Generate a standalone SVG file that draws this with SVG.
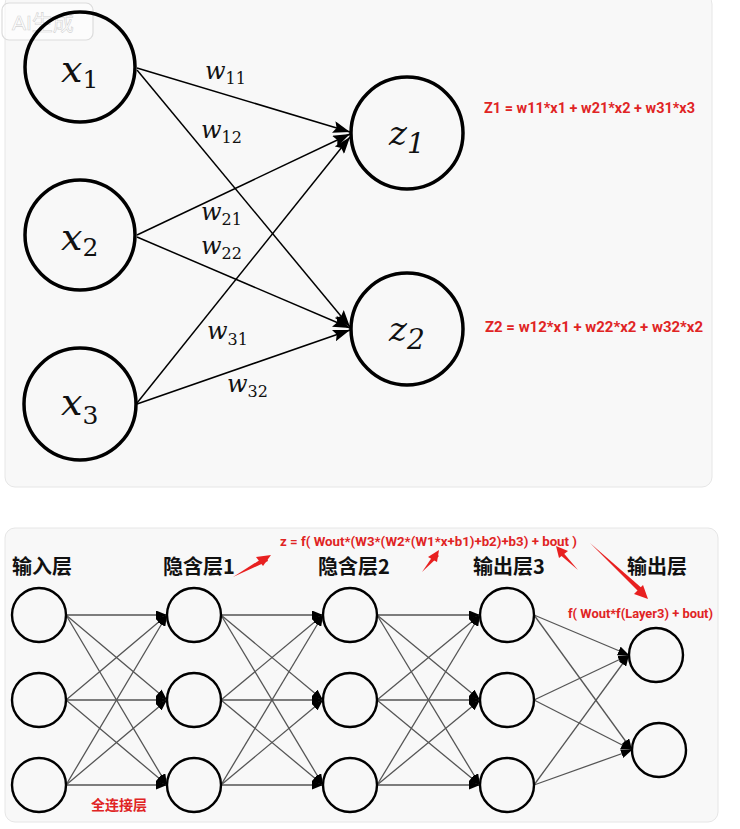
<svg xmlns="http://www.w3.org/2000/svg" width="740" height="829" viewBox="0 0 740 829">
<style>
.panel{fill:#f8f8f8;stroke:#e6e6e6;stroke-width:1}
.big{fill:none;stroke:#000;stroke-width:3.5}
.small{fill:none;stroke:#000;stroke-width:2.4}
.var{font-family:"DejaVu Serif","Liberation Serif",serif;font-style:italic;fill:#111}
.sub{font-style:normal}
.w{font-family:"DejaVu Serif","Liberation Serif",serif;font-style:italic;font-size:24px;fill:#111}
.ws{font-style:normal;font-size:16px}
.red{font-family:"Roboto","Liberation Sans",sans-serif;font-weight:700;fill:#e02424}
.redcn{font-family:"Noto Sans CJK SC","Noto Sans",sans-serif;font-weight:700;font-size:14px;fill:#e02424}
.cn{font-family:"Noto Sans CJK SC","Noto Sans",sans-serif;font-weight:700;font-size:20px;fill:#111}
.ct{stroke:#000;stroke-width:1.5;fill:none}
.cb{stroke:#555;stroke-width:1.3;fill:none}
.ra{fill:#e82020;stroke:none}
</style>
<defs>
<marker id="ah" markerUnits="userSpaceOnUse" markerWidth="18" markerHeight="12" refX="17" refY="6" orient="auto">
<path d="M0,0 L17,6 L0,12 L3,6 z" fill="#000"/>
</marker>
<marker id="as" markerUnits="userSpaceOnUse" markerWidth="12" markerHeight="9" refX="11" refY="4.5" orient="auto">
<path d="M0,0 L11,4.5 L0,9 z" fill="#000"/>
</marker>
<path id="redarrow" d="M0,-1 L-24,-1.8 L-24,-6 L0,0 L-24,6 L-24,1.8 Z"/>
</defs>
<rect width="740" height="829" fill="#ffffff"/>
<rect class="panel" x="5" y="-6" width="707" height="493" rx="10"/>
<rect class="panel" x="5" y="528" width="713" height="294" rx="10"/>

<g id="watermark">
<rect x="2" y="3" width="91" height="37" rx="7" fill="#ffffff" fill-opacity="0.5" stroke="#dcdcdc" stroke-width="1.2"/>
<text x="12" y="30" font-family="Liberation Sans,Noto Sans CJK SC,sans-serif" font-size="21" fill="#ffffff" stroke="#d2d2d2" stroke-width="0.6">AI生成</text>
</g>

<g id="connectors-top">
<line class="ct" x1="137" y1="68" x2="350" y2="132" marker-end="url(#ah)"/>
<line class="ct" x1="137" y1="70" x2="350" y2="327" marker-end="url(#ah)"/>
<line class="ct" x1="137" y1="235" x2="350" y2="134" marker-end="url(#ah)"/>
<line class="ct" x1="137" y1="237" x2="350" y2="328" marker-end="url(#ah)"/>
<line class="ct" x1="137" y1="403" x2="350" y2="137" marker-end="url(#ah)"/>
<line class="ct" x1="137" y1="404" x2="350" y2="330" marker-end="url(#ah)"/>
</g>

<g id="weights">
<text class="w" x="205" y="79">w<tspan class="ws" dy="5">11</tspan></text>
<text class="w" x="201" y="138">w<tspan class="ws" dy="5">12</tspan></text>
<text class="w" x="201" y="220">w<tspan class="ws" dy="5">21</tspan></text>
<text class="w" x="201" y="254">w<tspan class="ws" dy="5">22</tspan></text>
<text class="w" x="207" y="339">w<tspan class="ws" dy="6">31</tspan></text>
<text class="w" x="227" y="392">w<tspan class="ws" dy="5">32</tspan></text>
</g>

<g id="x1"><circle class="big" cx="80" cy="67" r="55"/><text class="var" x="61" y="82" font-size="38">x<tspan class="sub" font-size="25" dy="6">1</tspan></text></g>
<g id="x2"><circle class="big" cx="80" cy="235" r="55"/><text class="var" x="61" y="250" font-size="38">x<tspan class="sub" font-size="25" dy="6">2</tspan></text></g>
<g id="x3"><circle class="big" cx="80" cy="404" r="56"/><text class="var" x="61" y="415" font-size="38">x<tspan class="sub" font-size="25" dy="9">3</tspan></text></g>
<g id="z1"><circle class="big" cx="407" cy="133" r="56"/><text class="var" x="389" y="145" font-size="34">z<tspan font-size="28" dy="8">1</tspan></text></g>
<g id="z2"><circle class="big" cx="407" cy="329" r="56"/><text class="var" x="389" y="341" font-size="34">z<tspan font-size="28" dy="8">2</tspan></text></g>

<g id="formulas-top">
<text class="red" x="484" y="113" font-size="15" textLength="211" lengthAdjust="spacingAndGlyphs">Z1 = w11*x1 + w21*x2 + w31*x3</text>
<text class="red" x="485" y="332" font-size="15" textLength="218" lengthAdjust="spacingAndGlyphs">Z2 = w12*x1 + w22*x2 + w32*x2</text>
</g>

<g id="layer-labels">
<text class="cn" x="12" y="574">输入层</text>
<text class="cn" x="163" y="574">隐含层1</text>
<text class="cn" x="318" y="574">隐含层2</text>
<text class="cn" x="473" y="574">输出层3</text>
<text class="cn" x="627" y="574">输出层</text>
</g>

<g id="connectors-bottom">
<line class="cb" x1="66" y1="615" x2="167" y2="615" marker-end="url(#as)"/>
<line class="cb" x1="66" y1="615" x2="167" y2="700" marker-end="url(#as)"/>
<line class="cb" x1="66" y1="615" x2="167" y2="785" marker-end="url(#as)"/>
<line class="cb" x1="66" y1="700" x2="167" y2="615" marker-end="url(#as)"/>
<line class="cb" x1="66" y1="700" x2="167" y2="700" marker-end="url(#as)"/>
<line class="cb" x1="66" y1="700" x2="167" y2="785" marker-end="url(#as)"/>
<line class="cb" x1="66" y1="785" x2="167" y2="615" marker-end="url(#as)"/>
<line class="cb" x1="66" y1="785" x2="167" y2="700" marker-end="url(#as)"/>
<line class="cb" x1="66" y1="785" x2="167" y2="785" marker-end="url(#as)"/>

<line class="cb" x1="221" y1="615" x2="323" y2="615" marker-end="url(#as)"/>
<line class="cb" x1="221" y1="615" x2="323" y2="700" marker-end="url(#as)"/>
<line class="cb" x1="221" y1="615" x2="323" y2="785" marker-end="url(#as)"/>
<line class="cb" x1="221" y1="700" x2="323" y2="615" marker-end="url(#as)"/>
<line class="cb" x1="221" y1="700" x2="323" y2="700" marker-end="url(#as)"/>
<line class="cb" x1="221" y1="700" x2="323" y2="785" marker-end="url(#as)"/>
<line class="cb" x1="221" y1="785" x2="323" y2="615" marker-end="url(#as)"/>
<line class="cb" x1="221" y1="785" x2="323" y2="700" marker-end="url(#as)"/>
<line class="cb" x1="221" y1="785" x2="323" y2="785" marker-end="url(#as)"/>

<line class="cb" x1="377" y1="615" x2="480" y2="615" marker-end="url(#as)"/>
<line class="cb" x1="377" y1="615" x2="480" y2="700" marker-end="url(#as)"/>
<line class="cb" x1="377" y1="615" x2="480" y2="785" marker-end="url(#as)"/>
<line class="cb" x1="377" y1="700" x2="480" y2="615" marker-end="url(#as)"/>
<line class="cb" x1="377" y1="700" x2="480" y2="700" marker-end="url(#as)"/>
<line class="cb" x1="377" y1="700" x2="480" y2="785" marker-end="url(#as)"/>
<line class="cb" x1="377" y1="785" x2="480" y2="615" marker-end="url(#as)"/>
<line class="cb" x1="377" y1="785" x2="480" y2="700" marker-end="url(#as)"/>
<line class="cb" x1="377" y1="785" x2="480" y2="785" marker-end="url(#as)"/>

<line class="cb" x1="534" y1="615" x2="629" y2="655" marker-end="url(#as)"/>
<line class="cb" x1="534" y1="615" x2="632" y2="750" marker-end="url(#as)"/>
<line class="cb" x1="534" y1="700" x2="629" y2="655" marker-end="url(#as)"/>
<line class="cb" x1="534" y1="700" x2="632" y2="750" marker-end="url(#as)"/>
<line class="cb" x1="534" y1="785" x2="629" y2="655" marker-end="url(#as)"/>
<line class="cb" x1="534" y1="785" x2="632" y2="750" marker-end="url(#as)"/>
</g>

<g id="n1-1"><circle class="small" cx="39" cy="615" r="27"/></g>
<g id="n1-2"><circle class="small" cx="39" cy="700" r="27"/></g>
<g id="n1-3"><circle class="small" cx="39" cy="785" r="27"/></g>
<g id="n2-1"><circle class="small" cx="194" cy="615" r="27"/></g>
<g id="n2-2"><circle class="small" cx="194" cy="700" r="27"/></g>
<g id="n2-3"><circle class="small" cx="194" cy="785" r="27"/></g>
<g id="n3-1"><circle class="small" cx="350" cy="615" r="27"/></g>
<g id="n3-2"><circle class="small" cx="350" cy="700" r="27"/></g>
<g id="n3-3"><circle class="small" cx="350" cy="785" r="27"/></g>
<g id="n4-1"><circle class="small" cx="507" cy="615" r="27"/></g>
<g id="n4-2"><circle class="small" cx="507" cy="700" r="27"/></g>
<g id="n4-3"><circle class="small" cx="507" cy="785" r="27"/></g>
<g id="n5-1"><circle class="small" cx="656" cy="655" r="27"/></g>
<g id="n5-2"><circle class="small" cx="659" cy="750" r="27"/></g>

<g id="annotations">
<text class="red" x="280" y="546" font-size="12" textLength="297" lengthAdjust="spacingAndGlyphs">z = f( Wout*(W3*(W2*(W1*x+b1)+b2)+b3) + bout )</text>
<text class="red" x="568" y="618" font-size="13" textLength="145" lengthAdjust="spacingAndGlyphs">f( Wout*f(Layer3) + bout)</text>
<text class="redcn" x="91" y="810">全连接层</text>
<g class="ra">
<polygon points="233,577 266,556 268,561"/><polygon points="271,555 256,557 263,566"/>
</g>
<g class="ra">
<polygon points="422,572 435,553 439,556"/><polygon points="439,550 428,557 437,562"/>
</g>
<g class="ra">
<polygon points="578,570 561,550 558,553"/><polygon points="556,546 559,558 568,551"/>
</g>
<g class="ra">
<polygon points="590,543 641,594 644,590"/><polygon points="648,599 634,594 643,585"/>
</g>
</g>
</svg>
